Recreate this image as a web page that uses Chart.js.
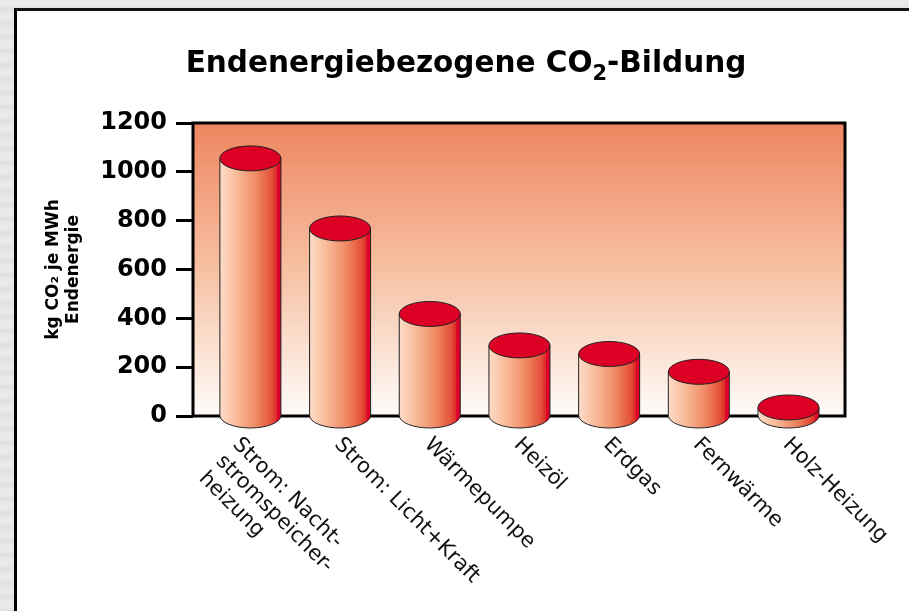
<!DOCTYPE html>
<html>
<head>
<meta charset="utf-8">
<script src="https://cdn.jsdelivr.net/npm/chart.js@4.4.1/dist/chart.umd.min.js"></script>
<style>
  html, body { margin: 0; padding: 0; width: 909px; height: 611px; overflow: hidden; }
  body {
    background: repeating-linear-gradient(180deg, #e9e9e9 0px, #e9e9e9 6px, #dedede 8px, #e6e6e6 12px, #e9e9e9 14px);
    position: relative;
  }
  #panel {
    position: absolute; left: 14px; top: 8px; right: -10px; bottom: -10px;
    background: #fff; border-left: 3px solid #000; border-top: 3px solid #111;
  }
  #wrap { position: absolute; left: 0; top: 0; width: 909px; height: 611px; }
</style>
</head>
<body>
<div id="panel"></div>
<div id="wrap"><canvas id="co2Chart"></canvas></div>
<script>
"use strict";

// data
let categories = [
  ['Strom: Nacht-', 'stromspeicher-', 'heizung'],
  'Strom: Licht+Kraft',
  'Wärmepumpe',
  'Heizöl',
  'Erdgas',
  'Fernwärme',
  'Holz-Heizung'
]
let co2Values = [1055, 768, 418, 289, 254, 181, 35]
let yTicks = [0, 200, 400, 600, 800, 1000, 1200]

// plot background + frame
const plotFrame = {
  id: 'plotFrame',
  beforeDatasetsDraw: function (chart) {
    const a = chart.chartArea, ctx = chart.ctx;
    ctx.save();
    const g = ctx.createLinearGradient(0, a.top, 0, a.bottom);
    g.addColorStop(0, '#ee8660');
    g.addColorStop(0.5, '#f6c0a2');
    g.addColorStop(1, '#fffcfa');
    ctx.fillStyle = g;
    ctx.fillRect(a.left, a.top, a.right - a.left, a.bottom - a.top);
    ctx.strokeStyle = '#000';
    ctx.lineWidth = 3;
    ctx.strokeRect(a.left, a.top, a.right - a.left, a.bottom - a.top);
    ctx.restore();
  }
};

// cylinders drawn on the bar elements
const cylinders = {
  id: 'cylinders',
  afterDatasetsDraw: function (chart) {
    const ctx = chart.ctx;
    const meta = chart.getDatasetMeta(0);
    meta.data.forEach(function (bar) {
      const rx = bar.width / 2, ry = 12.5;
      const left = bar.x - rx, right = bar.x + rx;
      ctx.save();
      const g = ctx.createLinearGradient(left, 0, right, 0);
      g.addColorStop(0, '#fddcc8');
      g.addColorStop(0.3, '#f8b795');
      g.addColorStop(0.6, '#ef8a63');
      g.addColorStop(0.85, '#e4503a');
      g.addColorStop(0.93, '#dc2a28');
      g.addColorStop(0.94, '#e0002a');
      g.addColorStop(1, '#e0002a');
      ctx.beginPath();
      ctx.moveTo(left, bar.y);
      ctx.lineTo(left, bar.base);
      ctx.ellipse(bar.x, bar.base, rx, ry, 0, Math.PI, 0, true);
      ctx.lineTo(right, bar.y);
      ctx.closePath();
      ctx.fillStyle = g;
      ctx.fill();
      ctx.lineWidth = 1;
      ctx.strokeStyle = '#222';
      ctx.stroke();
      ctx.beginPath();
      ctx.ellipse(bar.x, bar.y, rx, ry, 0, 0, Math.PI * 2);
      ctx.fillStyle = '#dc0025';
      ctx.fill();
      ctx.stroke();
      ctx.restore();
    });
  }
};

// slanted category labels (running down to the right)
const slantLabels = {
  id: 'slantLabels',
  afterDraw: function (chart) {
    const ctx = chart.ctx, xs = chart.scales.x;
    ctx.save();
    ctx.font = '21px "DejaVu Sans"';
    ctx.fillStyle = '#111';
    ctx.textAlign = 'left';
    ctx.textBaseline = 'top';
    categories.forEach(function (lab, i) {
      const lines = Array.isArray(lab) ? lab : [lab];
      const px = xs.getPixelForValue(i) + 5 + (lines.length > 1 ? -12 : 0);
      ctx.save();
      ctx.translate(px, chart.chartArea.bottom + 18);
      ctx.rotate(Math.PI / 4);
      lines.forEach(function (t, j) { ctx.fillText(t, 0, j * 24); });
      ctx.restore();
    });
    ctx.restore();
  }
};

// title with a real subscript 2
const co2Title = {
  id: 'co2Title',
  afterDraw: function (chart) {
    const ctx = chart.ctx;
    const big = 'bold 29.5px "DejaVu Sans"', small = 'bold 21px "DejaVu Sans"';
    const parts = [['Endenergiebezogene CO', big, 0], ['2', small, 8], ['-Bildung', big, 0]];
    let w = 0;
    parts.forEach(function (p) { ctx.font = p[1]; w += ctx.measureText(p[0]).width; });
    let x = 466 - w / 2;
    ctx.save();
    ctx.fillStyle = '#000';
    ctx.textBaseline = 'alphabetic';
    ctx.textAlign = 'left';
    parts.forEach(function (p) {
      ctx.font = p[1];
      ctx.fillText(p[0], x, 72 + p[2]);
      x += ctx.measureText(p[0]).width;
    });
    ctx.restore();
  }
};

var el = document.getElementById('co2Chart');
new Chart(el, {
  type: 'bar',
  data: {
    datasets: [{
      data: co2Values.map(function (v, i) { return { x: i, y: v }; }),
      backgroundColor: 'rgba(0,0,0,0)',
      borderWidth: 0,
      barThickness: 61
    }]
  },
  options: {
    responsive: true,
    maintainAspectRatio: false,
    animation: false,
    layout: { padding: { left: 0, right: 64, top: 123, bottom: 0 } },
    scales: {
      x: {
        type: 'linear',
        offset: false,
        min: -0.64,
        max: 6.63,
        ticks: { display: false },
        grid: { display: false },
        border: { display: false },
        afterFit: function (s) { s.height = 195; }
      },
      y: {
        min: 0,
        max: 1200,
        afterBuildTicks: function (s) { s.ticks = yTicks.map(function (v) { return { value: v }; }); },
        ticks: {
          color: '#000',
          padding: 9,
          font: { family: 'DejaVu Sans', size: 24, weight: 'bold' },
          callback: function (v) { return String(v); }
        },
        grid: {
          drawOnChartArea: false,
          drawTicks: true,
          tickLength: 17,
          tickWidth: 3,
          tickColor: '#000'
        },
        border: { display: false },
        title: {
          display: true,
          text: ['kg CO₂ je MWh', 'Endenergie'],
          color: '#000',
          font: { family: 'DejaVu Sans', size: 17, weight: 'bold', lineHeight: 1.2 },
          padding: { top: 43, bottom: 0 }
        },
        afterFit: function (s) { s.width = 193; }
      }
    },
    plugins: {
      legend: { display: false },
      tooltip: { enabled: false },
      title: { display: false }
    }
  },
  plugins: [plotFrame, cylinders, slantLabels, co2Title]
});
</script>
</body>
</html>
